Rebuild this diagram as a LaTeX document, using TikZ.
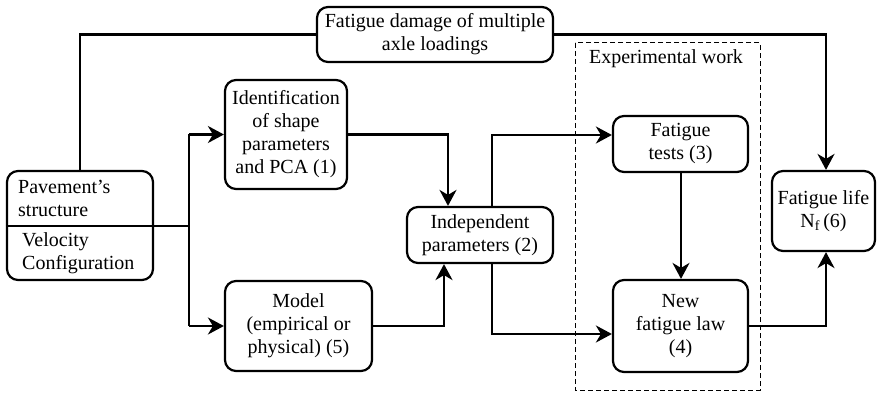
\documentclass[tikz,border=0pt]{standalone}
\usepackage{fontspec}
\setmainfont{Liberation Serif}
\newfontfamily\boxfont{Liberation Serif}
\usetikzlibrary{arrows.meta}
\begin{document}
\begin{tikzpicture}[x=1pt,y=-1pt,
  font=\boxfont\fontsize{20}{23}\selectfont,
  box/.style={draw, line width=2.2pt, rounded corners=11pt, align=center, inner sep=0pt},
  link/.style={line width=2.2pt},
  arr/.style={link, -{Stealth[length=16pt,width=17pt,inset=5pt]}},
  frame/.style={draw, line width=1pt, dash pattern=on 5pt off 3pt}]
\useasboundingbox (0,0) rectangle (878,393);

% boxes
\node[box, minimum width=146pt, minimum height=109pt] (pav) at (80,225.5) {};
\node[box, minimum width=236pt, minimum height=55pt] (dmg) at (435,34.5) {Fatigue damage of multiple\\axle loadings};
\node[box, minimum width=122pt, minimum height=109pt] (ident) at (286,134.5) {Identification\\of shape\\parameters\\and PCA (1)};
\node[box, minimum width=147pt, minimum height=90pt] (model) at (298.5,326) {Model\\(empirical or\\physical) (5)};
\node[box, minimum width=146pt, minimum height=56pt] (indep) at (480,235) {Independent\\parameters (2)};
\node[box, minimum width=135pt, minimum height=56pt] (tests) at (680.5,144) {Fatigue\\tests (3)};
\node[box, minimum width=135pt, minimum height=92pt] (law) at (680.5,326) {New\\fatigue law\\(4)};
\node[box, minimum width=103pt, minimum height=80pt] (life) at (823.5,211) {Fatigue life\\N\textsubscript{f}\,(6)};

% pavement box contents
\draw[link] (pav.west |- 0,226) coordinate (pavdivL) -- (pav.east |- 0,226) coordinate (pavdivR);
\node[anchor=west, align=left, inner sep=0pt] (pavtop) at (18,198.5) {Pavement’s\\structure};
\node[anchor=west, align=left, inner sep=0pt] (pavbot) at (22,253) {Velocity\\Configuration};

% experimental frame
\draw[frame] (575,43) rectangle (760,390);
\node[inner sep=0pt] (exp) at (666,59) {Experimental work};

% junction points
\coordinate (split) at (189,226);
\coordinate (splitT) at (189,134.5);
\coordinate (splitB) at (189,326);

% connectors
\draw[link] (pav.north) -- (80,34.5) -- (dmg.west);
\draw[arr] (dmg.east) -- (826,34.5) -- (life.north -| 826,0);
\draw[link] (pavdivR) -- (split);
\draw[link] (splitT) -- (splitB);
\draw[arr] (splitT) -- (ident.west);
\draw[arr] (splitB) -- (model.west);
\draw[arr] (ident.east) -- (448,134.5) -- (indep.north -| 448,0);
\draw[arr] (model.east) -- (444,326) -- (indep.south -| 444,0);
\draw[arr] (indep.north -| 492,0) -- (492,135) -- (tests.west |- 0,135);
\draw[arr] (indep.south -| 492,0) -- (492,334) -- (law.west |- 0,334);
\draw[arr] (tests.south -| 681,0) -- (law.north -| 681,0);
\draw[arr] (law.east) -- (826,326) -- (life.south -| 826,0);
\end{tikzpicture}
\end{document}
